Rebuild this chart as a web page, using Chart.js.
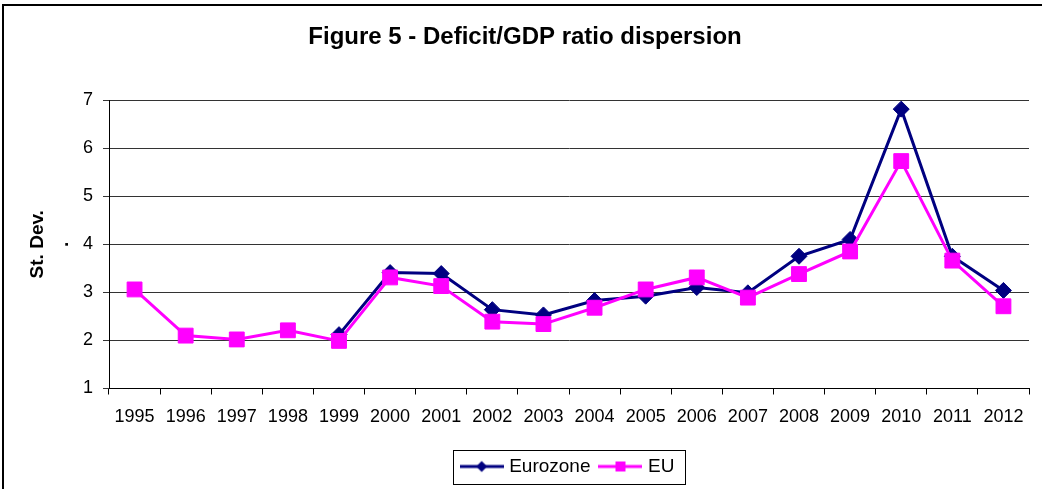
<!DOCTYPE html>
<html lang="en">
<head>
    <meta charset="UTF-8">
    <title>Figure 5 - Deficit/GDP ratio dispersion</title>
    <script src="https://cdn.jsdelivr.net/npm/chart.js"></script>
    <style>
        body {
            margin: 0;
            background: #fff;
        }
        canvas {
            display: block;
        }
    </style>
</head>
<body>
    <canvas id="dispersionChart" width="1042" height="489"></canvas>

    <script>
        // Standard deviation of deficit/GDP ratios, by year
        const years = ['1995', '1996', '1997', '1998', '1999', '2000', '2001', '2002', '2003',
                       '2004', '2005', '2006', '2007', '2008', '2009', '2010', '2011', '2012'];
        const eurozone = [null, null, null, null, 2.12, 3.41, 3.39, 2.64, 2.53,
                          2.83, 2.92, 3.10, 2.99, 3.75, 4.10, 6.81, 3.75, 3.04];
        const eu = [3.06, 2.10, 2.02, 2.21, 1.99, 3.31, 3.13, 2.39, 2.34,
                    2.68, 3.06, 3.31, 2.89, 3.38, 3.85, 5.73, 3.66, 2.71];
        const yTicks = [1, 2, 3, 4, 5, 6, 7];

        const navy = '#000080';
        const magenta = '#FF00FF';
        const font = 'Arial, "Liberation Sans", sans-serif';

        // Legend sample: short line with the marker in the middle
        function legendSample(color, shape) {
            const c = document.createElement('canvas');
            c.width = 44;
            c.height = 20;
            const g = c.getContext('2d');
            g.strokeStyle = color;
            g.fillStyle = color;
            g.lineWidth = 3;
            g.beginPath();
            g.moveTo(0, 10);
            g.lineTo(44, 10);
            g.stroke();
            g.beginPath();
            if (shape === 'diamond') {
                g.moveTo(22, 4.5);
                g.lineTo(27.5, 10);
                g.lineTo(22, 15.5);
                g.lineTo(16.5, 10);
                g.closePath();
            } else {
                g.rect(17, 5, 10, 10);
            }
            g.fill();
            return c;
        }

        // Outer frame and a box round the legend
        const framePlugin = {
            id: 'frame',
            beforeDraw(chart) {
                const ctx = chart.ctx;
                ctx.save();
                ctx.strokeStyle = '#000';
                ctx.lineWidth = 2;
                ctx.beginPath();
                ctx.moveTo(3, 489);
                ctx.lineTo(3, 5);
                ctx.lineTo(1042, 5);
                ctx.stroke();
                ctx.restore();
            },
            afterDraw(chart) {
                const boxes = chart.legend.legendHitBoxes;
                if (!boxes || !boxes.length) return;
                const first = boxes[0];
                const last = boxes[boxes.length - 1];
                const ctx = chart.ctx;
                ctx.save();
                ctx.strokeStyle = '#000';
                ctx.lineWidth = 1;
                ctx.strokeRect(Math.round(first.left - 11) + 0.5, Math.round(first.top - 7) + 0.5,
                               Math.round(last.left + last.width - first.left + 21), 34);
                ctx.restore();
            }
        };

        const ctx = document.getElementById('dispersionChart').getContext('2d');
        new Chart(ctx, {
            type: 'line',
            data: {
                labels: years,
                datasets: [
                    {
                        label: 'Eurozone',
                        data: eurozone,
                        borderColor: navy,
                        backgroundColor: navy,
                        borderWidth: 3,
                        pointStyle: 'rectRot',
                        pointRadius: 8,
                        pointBorderWidth: 1,
                        tension: 0,
                        order: 1
                    },
                    {
                        label: 'EU',
                        data: eu,
                        borderColor: magenta,
                        backgroundColor: magenta,
                        borderWidth: 3,
                        pointStyle: 'rect',
                        pointRadius: 10.5,
                        pointBorderWidth: 1,
                        tension: 0,
                        order: 0
                    }
                ]
            },
            options: {
                responsive: false,
                animation: false,
                layout: { padding: { left: 21, right: 13, top: 0, bottom: 3 } },
                scales: {
                    x: {
                        offset: true,
                        grid: {
                            offset: true,
                            drawOnChartArea: false,
                            drawTicks: true,
                            tickLength: 6,
                            color: '#000'
                        },
                        border: { color: '#000', width: 1 },
                        ticks: {
                            color: '#000',
                            padding: 12,
                            maxRotation: 0,
                            autoSkip: false,
                            font: { family: font, size: 18 }
                        },
                        afterFit(scale) { scale.height = 56.5; }
                    },
                    y: {
                        min: 1,
                        max: 7,
                        afterBuildTicks(scale) { scale.ticks = yTicks.map(v => ({ value: v })); },
                        grid: {
                            color: '#333',
                            tickLength: 6,
                            drawTicks: true
                        },
                        border: { color: '#000', width: 1 },
                        ticks: {
                            color: '#000',
                            padding: 10,
                            font: { family: font, size: 18 }
                        },
                        title: {
                            display: true,
                            text: ['St. Dev.', '.'],
                            color: '#000',
                            padding: { top: 3.7, bottom: 0 },
                            font: { family: font, size: 19, weight: 'bold', lineHeight: 1.35 }
                        },
                        afterFit(scale) { scale.width = 88; }
                    }
                },
                plugins: {
                    title: {
                        display: true,
                        text: 'Figure 5 - Deficit/GDP ratio dispersion',
                        color: '#000',
                        padding: { top: 22.6, bottom: 48.6 },
                        font: { family: font, size: 24, weight: 'bold', lineHeight: 1.2 }
                    },
                    legend: {
                        position: 'bottom',
                        fullSize: false,
                        labels: {
                            color: '#000',
                            usePointStyle: true,
                            pointStyleWidth: 36,
                            padding: 12,
                            font: { family: font, size: 19 },
                            generateLabels() {
                                return [
                                    { text: 'Eurozone', pointStyle: legendSample(navy, 'diamond'), datasetIndex: 0, hidden: false, lineWidth: 0, fontColor: '#000' },
                                    { text: 'EU', pointStyle: legendSample(magenta, 'square'), datasetIndex: 1, hidden: false, lineWidth: 0, fontColor: '#000' }
                                ];
                            }
                        }
                    },
                    tooltip: { enabled: false }
                }
            },
            plugins: [framePlugin]
        });
    </script>
</body>
</html>
